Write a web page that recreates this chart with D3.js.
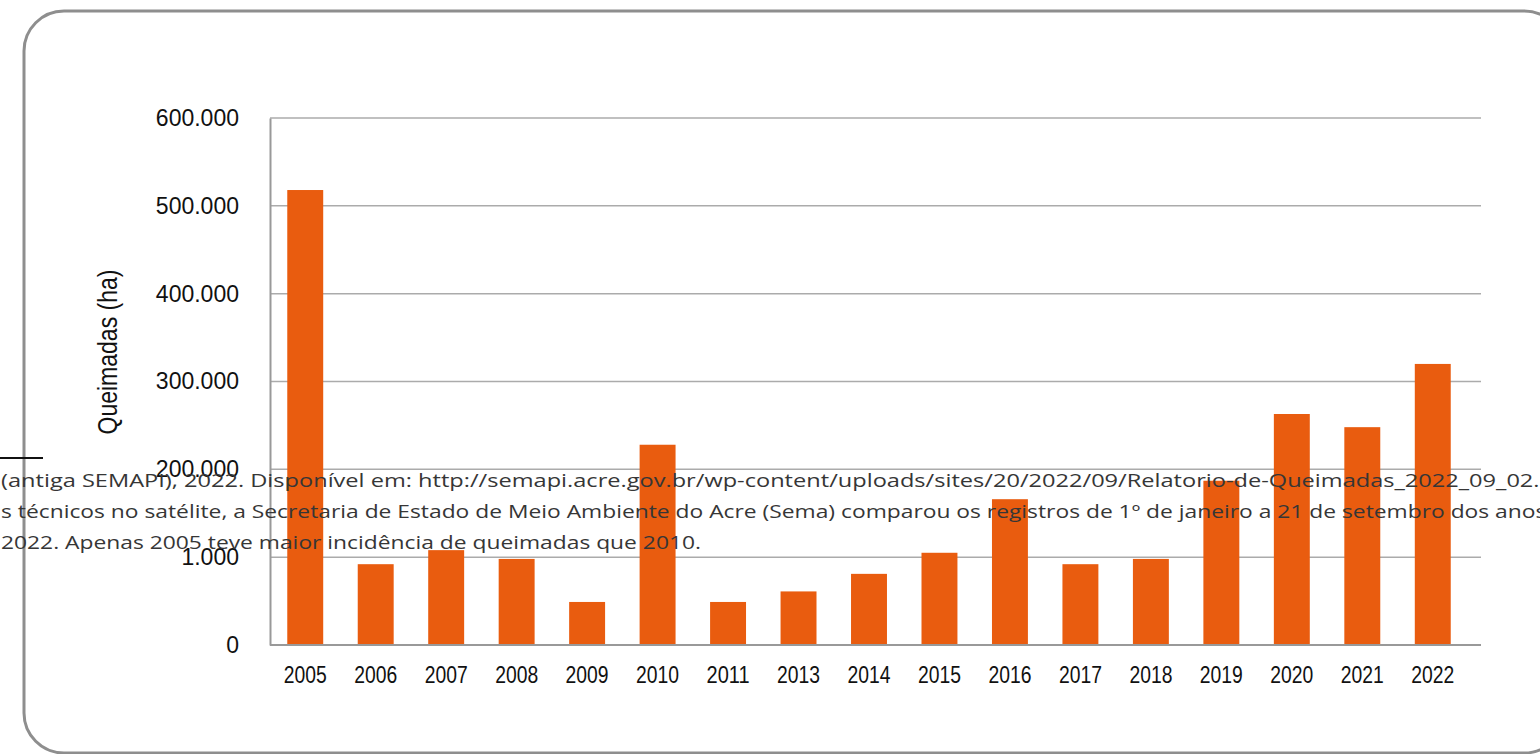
<!DOCTYPE html>
<html>
<head>
<meta charset="utf-8">
<script src="https://cdn.jsdelivr.net/npm/d3@7"></script>
<style>
  html, body { margin: 0; padding: 0; background: #fff; overflow: hidden; }
</style>
</head>
<body>
<div id="chart-area"></div>
<script>
const years = ["2005", "2006", "2007", "2008", "2009", "2010", "2011", "2013", "2014",
  "2015", "2016", "2017", "2018", "2019", "2020", "2021", "2022"];
const burned = [518000, 92000, 108000, 98000, 49000, 228000, 49000, 61000, 81000,
  105000, 166000, 92000, 98000, 187000, 263000, 248000, 320000];
const tickValues = [0, 100000, 200000, 300000, 400000, 500000, 600000];
const tickLabels = ["0", "1.000", "200.000", "300.000", "400.000", "500.000", "600.000"];
const footnote = [
  "(antiga SEMAPI), 2022. Disponível em: http://semapi.acre.gov.br/wp-content/uploads/sites/20/2022/09/Relatorio-de-Queimadas_2022_09_02.pdf",
  "s técnicos no satélite, a Secretaria de Estado de Meio Ambiente do Acre (Sema) comparou os registros de 1º de janeiro a 21 de setembro dos anos",
  "2022. Apenas 2005 teve maior incidência de queimadas que 2010."
];

const W = 1540, H = 754;
const margin = { left: 270, right: 59, top: 118, bottom: 109 };
const width = W - margin.left - margin.right;
const height = H - margin.top - margin.bottom;

const svg = d3.select("#chart-area")
  .append("svg")
  .attr("width", W)
  .attr("height", H);

// card border
svg.append("rect")
  .attr("x", 24)
  .attr("y", 11)
  .attr("width", 1540)
  .attr("height", 742)
  .attr("rx", 40)
  .attr("fill", "none")
  .attr("stroke", "#8e8e8e")
  .attr("stroke-width", 3);

const g = svg.append("g")
  .attr("transform", `translate(${margin.left}, ${margin.top})`);

// bands stop a little short of the axis end, as in the original
const x = d3.scaleBand()
  .domain(years)
  .range([0, width - 13])
  .paddingInner(0.49)
  .paddingOuter(0.245);

const y = d3.scaleLinear()
  .domain([0, 600000])
  .range([height, 0]);

// gridlines
g.append("g")
  .attr("class", "grid")
  .selectAll("line")
  .data(tickValues.slice(1))
  .enter()
  .append("line")
  .attr("x1", 0)
  .attr("x2", width)
  .attr("y1", d => y(d))
  .attr("y2", d => y(d))
  .attr("stroke", "#ababab")
  .attr("stroke-width", 1.5);

// bars
g.selectAll("rect.bar")
  .data(burned)
  .enter()
  .append("rect")
  .attr("class", "bar")
  .attr("x", (d, i) => x(years[i]))
  .attr("y", d => y(d))
  .attr("width", x.bandwidth())
  .attr("height", d => height - y(d))
  .attr("fill", "#e95c0f");

// y axis
const yAxisCall = d3.axisLeft(y)
  .tickValues(tickValues)
  .tickSize(0)
  .tickPadding(31)
  .tickFormat((d, i) => tickLabels[i]);

const yAxisGroup = g.append("g")
  .attr("class", "y-axis")
  .call(yAxisCall);
yAxisGroup.select(".domain").attr("stroke", "#999").attr("stroke-width", 2);
yAxisGroup.selectAll("text")
  .attr("font-family", "'Liberation Sans', Arial, sans-serif")
  .attr("font-size", "23px")
  .attr("fill", "#111");

// x axis (condensed year labels)
const xAxisCall = d3.axisBottom(x).tickSize(0).tickPadding(22);
const xAxisGroup = g.append("g")
  .attr("class", "x-axis")
  .attr("transform", `translate(0, ${height})`)
  .call(xAxisCall);
xAxisGroup.select(".domain").remove();
xAxisGroup.append("line")
  .attr("x1", 0)
  .attr("x2", width)
  .attr("stroke", "#999")
  .attr("stroke-width", 2);
xAxisGroup.selectAll("text")
  .attr("font-family", "'Liberation Sans', Arial, sans-serif")
  .attr("font-size", "23px")
  .attr("fill", "#111")
  .attr("textLength", 43)
  .attr("lengthAdjust", "spacingAndGlyphs");

// y-axis label
svg.append("text")
  .attr("transform", "translate(117, 352) rotate(-90)")
  .attr("text-anchor", "middle")
  .attr("font-family", "'Liberation Sans', Arial, sans-serif")
  .attr("font-size", "27px")
  .attr("fill", "#111")
  .attr("textLength", 165)
  .attr("lengthAdjust", "spacingAndGlyphs")
  .text("Queimadas (ha)");

// stray footnote overlay
svg.append("line")
  .attr("x1", 0).attr("x2", 43)
  .attr("y1", 458).attr("y2", 458)
  .attr("stroke", "#111")
  .attr("stroke-width", 2);

const notes = svg.append("g")
  .selectAll("text")
  .data(footnote)
  .enter()
  .append("text")
  .attr("x", 1)
  .attr("y", (d, i) => 487 + i * 31)
  .attr("font-family", "'Open Sans', sans-serif")
  .attr("font-size", "19px")
  .attr("fill", "#363636")
  .text(d => d);

// the footnote face is wider than Open Sans: stretch the lines to the original widths
const lastLen = notes.nodes()[2].getComputedTextLength();
const stretch = 700 / lastLen;
const lineFix = [1.034, 1, 1];
notes.each(function (d, i) {
  d3.select(this)
    .attr("textLength", this.getComputedTextLength() * stretch * lineFix[i])
    .attr("lengthAdjust", "spacingAndGlyphs");
});
</script>
</body>
</html>
